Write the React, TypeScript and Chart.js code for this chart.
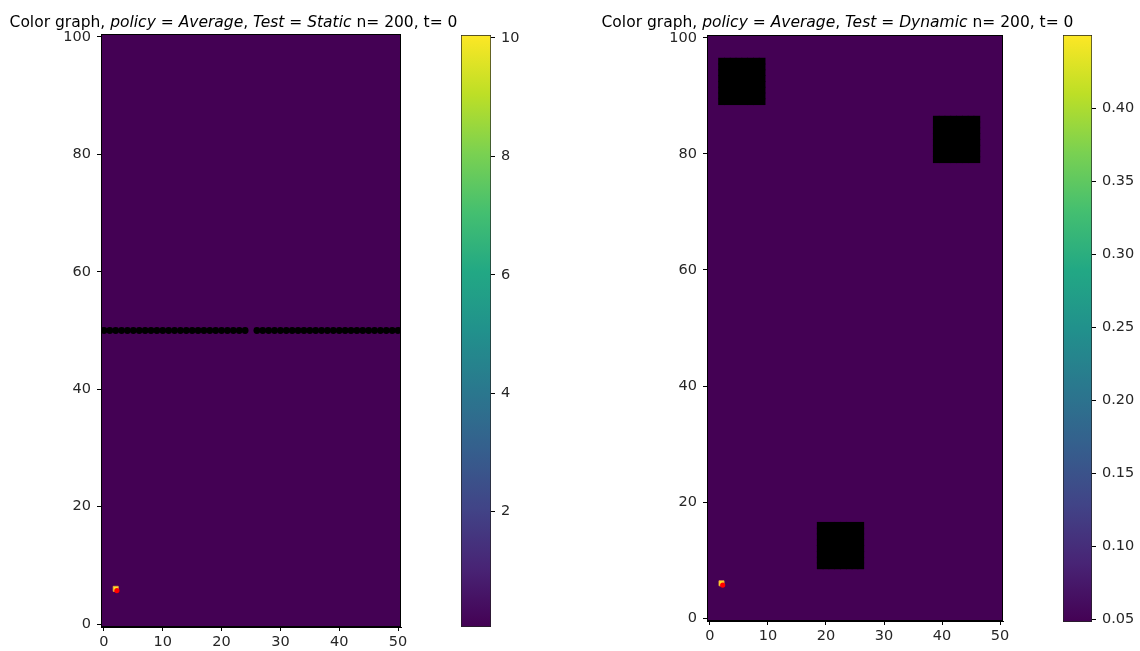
import React, { useEffect, useRef } from "react";
import { Chart, registerables } from "chart.js";
Chart.register(...registerables);

// ---------- data ----------
const xTicks = [0, 10, 20, 30, 40, 50];
const yTicks = [0, 20, 40, 60, 80, 100];
const gridXMin = 0;
const gridXMax = 50;
const gridYMin = 0;
const gridYMax = 100;

// Static test: a wall at y = 50 with a one-cell door at x = 25
const staticWallY = 50;
const staticWallX = [
  0, 1, 2, 3, 4, 5, 6, 7, 8, 9, 10, 11, 12, 13, 14, 15, 16, 17, 18, 19, 20, 21, 22, 23, 24,
  26, 27, 28, 29, 30, 31, 32, 33, 34, 35, 36, 37, 38, 39, 40, 41, 42, 43, 44, 45, 46, 47, 48, 49, 50,
];
const staticBaseValue = 0.05;
const staticMin = 0.05;
const staticMax = 10.05;
const staticColorbarTicks = [2, 4, 6, 8, 10];

// Dynamic test: three square obstacles (inclusive cell ranges)
const dynamicObstacleX0 = [2, 39, 19];
const dynamicObstacleX1 = [9, 46, 26];
const dynamicObstacleY0 = [89, 79, 9];
const dynamicObstacleY1 = [96, 86, 16];
const dynamicBaseValue = 0.048;
const dynamicMin = 0.048;
const dynamicMax = 0.45;
const dynamicColorbarTicks = [0.05, 0.1, 0.15, 0.2, 0.25, 0.3, 0.35, 0.4];

// Agent
const agentCell = [2, 6];
const agentMarker = [2.2, 5.7];

const staticTitle: [string, boolean][] = [
  ["Color graph, ", false], ["policy", true], [" = ", false], ["Average", true], [", ", false],
  ["Test", true], [" = ", false], ["Static", true], [" n= 200, t= 0", false],
];
const dynamicTitle: [string, boolean][] = [
  ["Color graph, ", false], ["policy", true], [" = ", false], ["Average", true], [", ", false],
  ["Test", true], [" = ", false], ["Dynamic", true], [" n= 200, t= 0", false],
];

// ---------- style ----------
const FONT = "'DejaVu Sans', sans-serif";
const TICK_FONT = { family: FONT, size: 14.5 };
const TICK_COLOR = "#262626";
const VIRIDIS: [number, string][] = [
  [0.0, "#440154"], [0.1, "#482475"], [0.2, "#414487"], [0.3, "#355f8d"], [0.4, "#2a788e"],
  [0.5, "#21918c"], [0.6, "#22a884"], [0.7, "#44bf70"], [0.8, "#7ad151"], [0.9, "#bddf26"], [1.0, "#fde725"],
];
function hex(c: string) {
  return [1, 3, 5].map((i) => parseInt(c.slice(i, i + 2), 16));
}
function viridis(t: number) {
  t = Math.max(0, Math.min(1, t));
  for (let i = 1; i < VIRIDIS.length; i++) {
    if (t <= VIRIDIS[i][0]) {
      const [t0, c0] = VIRIDIS[i - 1];
      const [t1, c1] = VIRIDIS[i];
      const f = (t - t0) / (t1 - t0);
      const a = hex(c0), b = hex(c1);
      const m = a.map((v, k) => Math.round(v + (b[k] - v) * f));
      return `rgb(${m[0]},${m[1]},${m[2]})`;
    }
  }
  return VIRIDIS[VIRIDIS.length - 1][1];
}

type Area = { left: number; top: number; right: number; bottom: number };

function HeatPanel(props: {
  left: number; width: number; height: number; area: Area; titleCenter: number; title: [string, boolean][];
  cells: { x: number; y: number }[]; cellStyle: string; cellRadius: number;
  base: number; vmin: number; vmax: number;
}) {
  const ref = useRef<HTMLCanvasElement>(null);
  useEffect(() => {
    const { width, height, area, vmin, vmax, base } = props;
    const plugin = {
      id: "heatDecor",
      beforeDatasetsDraw(chart: any) {
        const { ctx, scales } = chart;
        const x0 = scales.x.getPixelForValue(gridXMin - 0.5);
        const x1 = scales.x.getPixelForValue(gridXMax + 0.5);
        const y0 = scales.y.getPixelForValue(gridYMax + 0.5);
        const y1 = scales.y.getPixelForValue(gridYMin - 0.5);
        ctx.save();
        ctx.fillStyle = viridis((base - vmin) / (vmax - vmin));
        ctx.fillRect(x0, y0, x1 - x0, y1 - y0);
        ctx.restore();
      },
      afterDraw(chart: any) {
        const { ctx, chartArea } = chart;
        ctx.save();
        ctx.strokeStyle = "#000";
        ctx.lineWidth = 1;
        ctx.strokeRect(chartArea.left + 0.5, chartArea.top + 0.5, chartArea.right - chartArea.left - 1, chartArea.bottom - chartArea.top - 1);
        // title
        const size = 15.5;
        const fontOf = (it: boolean) => `${it ? "italic " : ""}${size}px ${FONT}`;
        let total = 0;
        for (const [t, it] of props.title) { ctx.font = fontOf(it); total += ctx.measureText(t).width; }
        let x = props.titleCenter - total / 2;
        ctx.fillStyle = "#000";
        ctx.textBaseline = "alphabetic";
        ctx.textAlign = "left";
        for (const [t, it] of props.title) {
          ctx.font = fontOf(it);
          ctx.fillText(t, x, 27);
          x += ctx.measureText(t).width;
        }
        ctx.restore();
      },
    };
    const chart = new Chart(ref.current!, {
      type: "scatter",
      data: {
        datasets: [
          {
            data: [{ x: agentMarker[0], y: agentMarker[1] }], pointStyle: "circle", pointRadius: 2.6,
            backgroundColor: "#ff0000", borderWidth: 0, order: 0,
          },
          {
            data: [{ x: agentCell[0], y: agentCell[1] }], pointStyle: "rect", pointRadius: 3.6,
            backgroundColor: viridis(1), borderColor: "#f2a33a", borderWidth: 0.8, order: 1,
          },
          {
            data: props.cells, pointStyle: props.cellStyle as any, pointRadius: props.cellRadius,
            backgroundColor: "#000", borderWidth: 0, clip: 0 as any, order: 2,
          },
        ],
      },
      plugins: [plugin],
      options: {
        responsive: false, animation: false, events: [],
        layout: { padding: { top: area.top, right: width - area.right, left: 0, bottom: 0 } },
        plugins: { legend: { display: false }, tooltip: { enabled: false }, title: { display: false } },
        scales: {
          x: {
            type: "linear", min: gridXMin - 0.5, max: gridXMax + 0.5,
            afterBuildTicks: (s: any) => { s.ticks = xTicks.map((v) => ({ value: v })); },
            afterFit: (s: any) => { s.height = height - area.bottom; },
            grid: { drawOnChartArea: false, tickLength: 4, color: "#000", tickColor: "#000" },
            border: { color: "#000", width: 1 },
            ticks: { font: TICK_FONT, color: TICK_COLOR, padding: 3, maxRotation: 0, autoSkip: false },
          },
          y: {
            type: "linear", min: gridYMin - 0.5, max: gridYMax + 0.5,
            afterBuildTicks: (s: any) => { s.ticks = yTicks.map((v) => ({ value: v })); },
            afterFit: (s: any) => { s.width = area.left; },
            grid: { drawOnChartArea: false, tickLength: 4, color: "#000", tickColor: "#000" },
            border: { color: "#000", width: 1 },
            ticks: { font: TICK_FONT, color: TICK_COLOR, padding: 6, autoSkip: false },
          },
        },
      } as any,
    });
    return () => chart.destroy();
  }, []);
  return (
    <canvas ref={ref} width={props.width} height={props.height}
      style={{ position: "absolute", left: props.left, top: 0, width: props.width, height: props.height }} />
  );
}

function ColorBar(props: {
  left: number; width: number; height: number; area: Area; vmin: number; vmax: number; ticks: number[]; digits: number;
}) {
  const ref = useRef<HTMLCanvasElement>(null);
  useEffect(() => {
    const { width, height, area, vmin, vmax } = props;
    const chart = new Chart(ref.current!, {
      type: "bar",
      data: {
        labels: [""],
        datasets: [{
          data: [[vmin, vmax]] as any,
          backgroundColor: (c: any) => {
            const ch = c.chart;
            if (!ch.chartArea) return "#440154";
            const y0 = ch.scales.y.getPixelForValue(vmin);
            const y1 = ch.scales.y.getPixelForValue(vmax);
            const g = ch.ctx.createLinearGradient(0, y0, 0, y1);
            VIRIDIS.forEach(([t, col]) => g.addColorStop(t, col));
            return g;
          },
          borderColor: "#222", borderWidth: 1, borderSkipped: false as any,
          barPercentage: 1, categoryPercentage: 1,
        }],
      },
      options: {
        responsive: false, animation: false, events: [],
        layout: { padding: { left: area.left, top: area.top, bottom: height - area.bottom, right: 0 } },
        plugins: { legend: { display: false }, tooltip: { enabled: false } },
        scales: {
          x: { display: false },
          y: {
            position: "right", min: vmin, max: vmax,
            afterBuildTicks: (s: any) => { s.ticks = props.ticks.map((v) => ({ value: v })); },
            afterFit: (s: any) => { s.width = width - area.right; },
            grid: { drawOnChartArea: false, tickLength: 4, color: "#000", tickColor: "#000" },
            border: { display: false },
            ticks: {
              font: TICK_FONT, color: TICK_COLOR, padding: 6, autoSkip: false,
              callback: (v: any) => Number(v).toFixed(props.digits),
            },
          },
        },
      } as any,
    });
    return () => chart.destroy();
  }, []);
  return (
    <canvas ref={ref} width={props.width} height={props.height}
      style={{ position: "absolute", left: props.left, top: 0, width: props.width, height: props.height }} />
  );
}

export default function App() {
  const staticCells = staticWallX.map((x) => ({ x, y: staticWallY }));
  const dynamicCells: { x: number; y: number }[] = [];
  dynamicObstacleX0.forEach((x0, i) => {
    for (let x = x0; x <= dynamicObstacleX1[i]; x++)
      for (let y = dynamicObstacleY0[i]; y <= dynamicObstacleY1[i]; y++) dynamicCells.push({ x, y });
  });
  const H = 651;
  return (
    <div style={{ position: "fixed", left: 0, top: 0, width: 1140, height: H, background: "#fff", overflow: "hidden" }}>
      <HeatPanel left={0} width={560} height={H} area={{ left: 101, top: 34, right: 401, bottom: 627 }}
        titleCenter={233.5} title={staticTitle} cells={staticCells} cellStyle="circle" cellRadius={3.4}
        base={staticBaseValue} vmin={staticMin} vmax={staticMax} />
      <ColorBar left={440} width={120} height={H} area={{ left: 21, top: 35, right: 51, bottom: 627 }}
        vmin={staticMin} vmax={staticMax} ticks={staticColorbarTicks} digits={0} />
      <HeatPanel left={570} width={570} height={H} area={{ left: 137, top: 35, right: 433, bottom: 621 }}
        titleCenter={267.5} title={dynamicTitle} cells={dynamicCells} cellStyle="rect" cellRadius={4.7}
        base={dynamicBaseValue} vmin={dynamicMin} vmax={dynamicMax} />
      <ColorBar left={1040} width={100} height={H} area={{ left: 23, top: 35, right: 52, bottom: 622 }}
        vmin={dynamicMin} vmax={dynamicMax} ticks={dynamicColorbarTicks} digits={2} />
    </div>
  );
}
